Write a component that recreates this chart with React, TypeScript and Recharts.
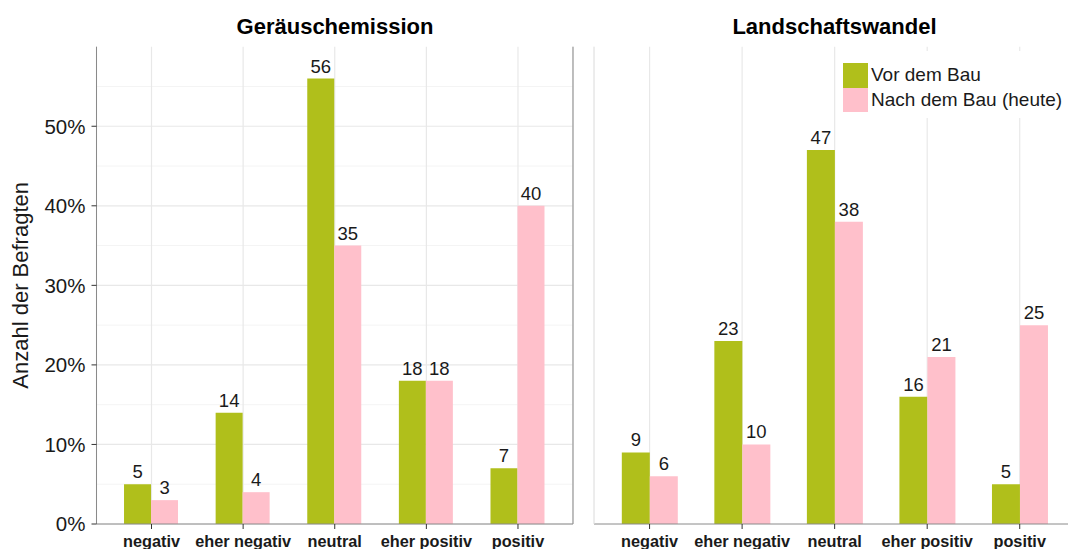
import { BarChart, Bar, XAxis, YAxis, CartesianGrid, LabelList } from 'recharts';

const categories = ['negativ', 'eher negativ', 'neutral', 'eher positiv', 'positiv'];
const geraeuschVor = [5, 14, 56, 18, 7];
const geraeuschNach = [3, 4, 35, 18, 40];
const landschaftVor = [9, 23, 47, 16, 5];
const landschaftNach = [6, 10, 38, 21, 25];
const majorTicks = [0, 10, 20, 30, 40, 50];
const minorTicks = [5, 15, 25, 35, 45, 55];

const GREEN = '#b0bf1b';
const PINK = '#ffc0cb';
const BORDER = '#8a8a8a';
const GRID = '#e8e8e8';
const GRID_MINOR = '#f4f4f4';
const FONT = '"Liberation Sans", Arial, Helvetica, sans-serif';

const legendItems = [
  { label: 'Vor dem Bau', color: GREEN },
  { label: 'Nach dem Bau (heute)', color: PINK },
];

const toRows = (vor: number[], nach: number[]) =>
  categories.map((c, i) => ({ cat: c, vor: vor[i], nach: nach[i] }));

const geraeuschData = toRows(geraeuschVor, geraeuschNach);
const landschaftData = toRows(landschaftVor, landschaftNach);

const BarLabel = (props: any) => {
  const { x, y, width, value } = props;
  if (x === undefined || y === undefined) return null;
  return (
    <text x={x + width / 2} y={y - 6} textAnchor="middle" fontSize={18.5} fill="#1a1a1a" fontFamily={FONT}>
      {value}
    </text>
  );
};

const LegendBox = () => (
  <div
    style={{
      position: 'absolute',
      left: 836,
      top: 51,
      background: '#fff',
      padding: '12px 4px 6px 7px',
      fontFamily: FONT,
      fontSize: 19,
      color: '#1a1a1a',
    }}
  >
    {legendItems.map((d) => (
      <div key={d.label} style={{ display: 'flex', alignItems: 'center', height: 24.5 }}>
        <div style={{ width: 24.5, height: 24.5, background: d.color, marginRight: 3.5 }} />
        <span style={{ lineHeight: '24px', whiteSpace: 'nowrap' }}>{d.label}</span>
      </div>
    ))}
  </div>
);

const xTick = { fontSize: 16.3, fontWeight: 700, fill: '#1a1a1a', fontFamily: FONT };

const Title = ({ text, center }: { text: string; center: number }) => (
  <div
    style={{
      position: 'absolute',
      top: 14,
      left: center - 200,
      width: 400,
      textAlign: 'center',
      fontFamily: FONT,
      fontWeight: 700,
      fontSize: 22,
      color: '#000',
    }}
  >
    {text}
  </div>
);

export default function App() {
  return (
    <div style={{ position: 'absolute', left: 0, top: 0, width: 1068, height: 549, overflow: 'hidden', background: '#fff' }}>
      <Title text="Geräuschemission" center={335} />
      <Title text="Landschaftswandel" center={834.5} />

      <div style={{ position: 'absolute', left: 0, top: 0 }}>
        <BarChart
          width={580}
          height={549}
          data={geraeuschData}
          margin={{ top: 46.7, right: 7, bottom: 0, left: 0 }}
          barCategoryGap="20%"
          barGap={0}
        >
          <CartesianGrid stroke={GRID_MINOR} strokeWidth={1} vertical={false} horizontalValues={minorTicks} />
          <CartesianGrid stroke={GRID} strokeWidth={1.2} horizontalValues={majorTicks} />
          <XAxis
            dataKey="cat"
            height={25}
            padding={{ left: 9.2, right: 9.2 }}
            tickSize={5}
            tickMargin={6}
            interval={0}
            tick={xTick}
            tickLine={{ stroke: '#333' }}
            axisLine={{ stroke: BORDER }}
          />
          <XAxis xAxisId="top" dataKey="cat" orientation="top" height={0} tick={false} tickLine={false} axisLine={{ stroke: BORDER }} />
          <YAxis
            domain={[0, 60]}
            ticks={majorTicks}
            width={96.5}
            tickSize={5}
            tickMargin={6}
            tickFormatter={(v) => `${v}%`}
            tick={{ fontSize: 20.5, fill: '#1a1a1a', fontFamily: FONT }}
            tickLine={{ stroke: '#333' }}
            axisLine={{ stroke: BORDER }}
            label={{
              value: 'Anzahl der Befragten',
              angle: -90,
              position: 'insideLeft',
              offset: 20,
              style: { fontSize: 22, fill: '#1a1a1a', fontFamily: FONT, textAnchor: 'middle' },
            }}
          />
          <YAxis yAxisId="right" orientation="right" domain={[0, 60]} width={0.01} tick={false} tickLine={false} axisLine={{ stroke: BORDER }} />
          <Bar dataKey="vor" fill={GREEN} isAnimationActive={false}>
            <LabelList dataKey="vor" content={BarLabel} />
          </Bar>
          <Bar dataKey="nach" fill={PINK} isAnimationActive={false}>
            <LabelList dataKey="nach" content={BarLabel} />
          </Bar>
        </BarChart>
      </div>

      <div style={{ position: 'absolute', left: 560, top: 0 }}>
        <BarChart
          width={520}
          height={549}
          data={landschaftData}
          margin={{ top: 46.7, right: 4.7, bottom: 0, left: 0 }}
          barCategoryGap="20%"
          barGap={0}
        >
          <CartesianGrid stroke={GRID_MINOR} strokeWidth={1} vertical={false} horizontalValues={minorTicks} />
          <CartesianGrid stroke={GRID} strokeWidth={1.2} horizontalValues={majorTicks} />
          <XAxis
            dataKey="cat"
            height={25}
            padding={{ left: 9.3, right: 9.3 }}
            tickSize={5}
            tickMargin={6}
            interval={0}
            tick={xTick}
            tickLine={{ stroke: '#333' }}
            axisLine={{ stroke: BORDER }}
          />
          <XAxis xAxisId="top" dataKey="cat" orientation="top" height={0} tick={false} tickLine={false} axisLine={{ stroke: BORDER }} />
          <YAxis domain={[0, 60]} ticks={majorTicks} width={34} tick={false} tickLine={false} axisLine={{ stroke: GRID }} />
          <Bar dataKey="vor" fill={GREEN} isAnimationActive={false}>
            <LabelList dataKey="vor" content={BarLabel} />
          </Bar>
          <Bar dataKey="nach" fill={PINK} isAnimationActive={false}>
            <LabelList dataKey="nach" content={BarLabel} />
          </Bar>
        </BarChart>
      </div>

      <LegendBox />
    </div>
  );
}
